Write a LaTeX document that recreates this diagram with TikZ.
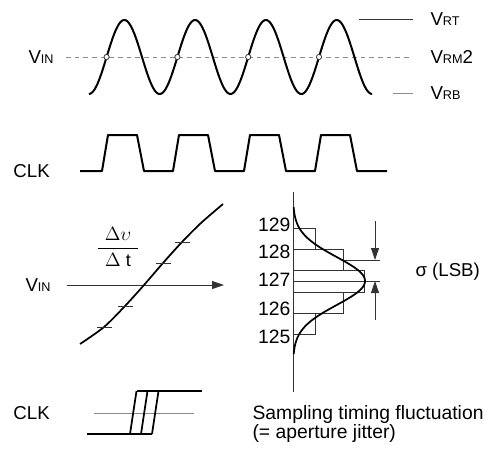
\documentclass[tikz,border=0pt]{standalone}
\usepackage{fontspec}
\setmainfont{Liberation Sans}
\usetikzlibrary{arrows.meta}

\tikzset{every picture/.style={line width=0.75pt}}
\tikzset{
  wave/.style={line width=1.5pt, line join=round},
  fine/.style={line width=0.6pt, color=black!80},
  faint/.style={line width=0.6pt, color=black!45},
  lbl/.style={anchor=west, inner sep=0pt, font=\fontsize{14}{16}\selectfont},
  num/.style={anchor=east, inner sep=0pt, font=\fontsize{14.5}{16}\selectfont},
  tip/.style={-{Triangle[length=9pt,width=6pt]}}
}
\newcommand{\refsub}[1]{{\fontsize{9.5}{11}\selectfont #1}}

\begin{document}
\begin{tikzpicture}[x=0.75pt,y=0.75pt,yscale=-1,xscale=1]
\useasboundingbox (0,0) rectangle (491,455);

%Input sine wave
\draw [faint, dash pattern={on 3.5pt off 3pt}] (66,57) -- (410,57) ;
\draw [wave] plot [domain=88.9:372.1, samples=200, smooth] (\x,{57-37*sin((\x-106.6)*5.0847)}) ;
\foreach \k in {0,...,3}
  \draw [fine, fill=white] ({106.6+70.8*\k},57) circle [radius=2.6] ;
%Reference levels
\draw [fine] (359,19) -- (413,19) ;
\draw [faint] (393,93) -- (413,93) ;

% Text Node
\node [lbl] (vin1) at (28,57) {V\refsub{IN}};
\node [lbl] (vrt) at (430,19) {V\refsub{RT}};
\node [lbl] (vrm) at (430,57) {V\refsub{RM}2};
\node [lbl] (vrb) at (430,93) {V\refsub{RB}};

%Clock
\draw [wave] (80,171) \foreach \k in {0,...,3} { -- ({102+71*\k},171) -- ({108+71*\k},135) -- ({137+71*\k},135) -- ({144+71*\k},171) } -- (387,171) ;
\node [lbl] (clk1) at (13,171) {CLK};

%Input slope
\coordinate (vinA) at (67,285);
\coordinate (vinB) at (224,285);
\draw [fine, tip] (vinA) -- (vinB) ;
\draw [wave, line width=1.3pt] plot [smooth] coordinates {(80,344) (104,327) (125,306) (144,285) (163,263) (182,242) (201,223) (223,204)} ;
\foreach \tx/\ty in {104.5/327, 125.5/306, 163.5/263, 182/242}
  \draw [fine] ({\tx-7.5},\ty) -- ({\tx+7.5},\ty) ;
\node [lbl] (vin2) at (25,285) {V\refsub{IN}};
\node [inner sep=0pt, font=\fontsize{13.5}{15}\selectfont] (slope) at (118,247) {$\displaystyle\frac{\kern5pt\Delta\upsilon\kern5pt}{\Delta\ \mathrm{t}}$};

%Histogram of output codes
\draw [fine] (293,192) -- (293,392) ;
\draw [fine] (293,228) rectangle (315,249) ;
\draw [fine] (293,249) rectangle (343,270) ;
\draw [fine] (293,270) rectangle (364,292) ;
\draw [fine] (293,292) rectangle (343,313) ;
\draw [fine] (293,313) rectangle (315,334) ;
\draw [fine] (293,281) -- (380,281) ;
\draw [fine] (343,260) -- (380,260) ;
\draw [wave, line width=1.3pt] plot [domain=207:354, samples=120, smooth] ({293+72*exp(-((\x-281)^2)/1152)},\x) ;
\node [num] (c129) at (291,225) {129};
\node [num] (c128) at (291,252) {128};
\node [num] (c127) at (291,280) {127};
\node [num] (c126) at (291,309) {126};
\node [num] (c125) at (291,337) {125};

%Sigma arrows
\coordinate (sgA) at (375,221);
\coordinate (sgB) at (375,260);
\coordinate (sgC) at (375,320);
\coordinate (sgD) at (375,281);
\draw [fine, tip] (sgA) -- (sgB) ;
\draw [fine, tip] (sgC) -- (sgD) ;
\node [lbl] (sigma) at (415,272) {σ (LSB)};

%Jittered clock edges
\draw [faint] (94,413) -- (194,413) ;
\draw [wave, line width=1.3pt] (87,434) -- (152,434) ;
\draw [wave, line width=1.3pt] (137,391) -- (202,391) ;
\foreach \ex in {130,141,152}
  \draw [wave, line width=1.3pt] (\ex,434) -- ({\ex+6.5},391) ;
\node [lbl] (clk2) at (13,413) {CLK};

% Text Node
\node [anchor=north west, inner sep=0pt, align=left, font=\fontsize{14.5}{12.5}\selectfont] (jitter) at (252,405) {Sampling timing fluctuation\\(= aperture jitter)};

\end{tikzpicture}
\end{document}
